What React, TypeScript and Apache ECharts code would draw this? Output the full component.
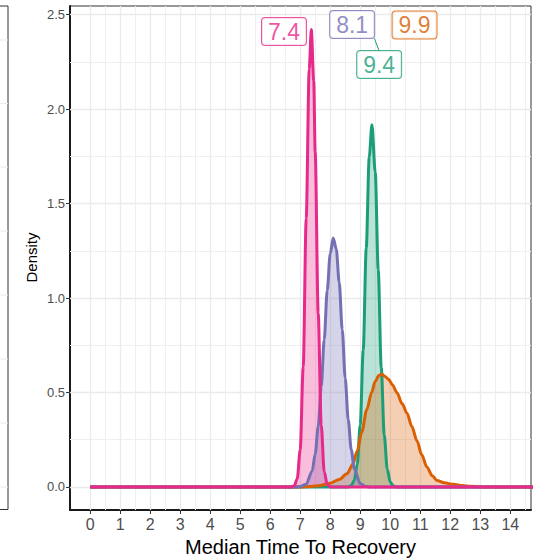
import React, { useEffect, useRef } from 'react';
import * as echarts from 'echarts';

// ---- axis ticks ----
const X_TICKS = [0, 1, 2, 3, 4, 5, 6, 7, 8, 9, 10, 11, 12, 13, 14];
const X_MINOR = [0.5, 1.5, 2.5, 3.5, 4.5, 5.5, 6.5, 7.5, 8.5, 9.5, 10.5, 11.5, 12.5, 13.5, 14.5];
const Y_TICKS = [0, 0.5, 1, 1.5, 2, 2.5];
const Y_MINOR = [0.25, 0.75, 1.25, 1.75, 2.25];

// ---- density curves (x, density) ----
const GREEN_94: [number, number][] = [
  [0, 0], [8.6, 0], [8.7, 0.008], [8.8, 0.034], [8.9, 0.119], [9.0, 0.33], [9.1, 0.725],
  [9.2, 1.263], [9.3, 1.746], [9.39, 1.917], [9.5, 1.667], [9.6, 1.15], [9.7, 0.632],
  [9.8, 0.276], [9.9, 0.095], [10.0, 0.026], [10.1, 0.006], [10.2, 0], [15, 0],
];
const ORANGE_99: [number, number][] = [
  [0, 0], [7.0, 0], [7.3, 0.002], [7.6, 0.006], [8.0, 0.02], [8.3, 0.04], [8.56, 0.07],
  [8.75, 0.12], [8.9, 0.19], [9.05, 0.29], [9.22, 0.41], [9.38, 0.5], [9.5, 0.56],
  [9.62, 0.59], [9.72, 0.596], [9.83, 0.585], [9.94, 0.57], [10.08, 0.54], [10.22, 0.5],
  [10.4, 0.44], [10.56, 0.39], [10.72, 0.32], [10.89, 0.245], [11.05, 0.17], [11.22, 0.106],
  [11.4, 0.06], [11.56, 0.035], [11.8, 0.022], [12.11, 0.014], [12.4, 0.008], [12.67, 0.004],
  [13.0, 0.001], [13.2, 0], [15, 0],
];
const PURPLE_81: [number, number][] = [
  [0, 0], [6.9, 0], [7.0, 0.002], [7.2, 0.015], [7.4, 0.085], [7.5, 0.175], [7.6, 0.32],
  [7.7, 0.53], [7.8, 0.78], [7.9, 1.04], [8.0, 1.234], [8.1, 1.317], [8.2, 1.261],
  [8.3, 1.083], [8.4, 0.834], [8.5, 0.576], [8.6, 0.357], [8.7, 0.198], [8.8, 0.098],
  [9.0, 0.018], [9.2, 0.002], [9.3, 0], [15, 0],
];
const PINK_74: [number, number][] = [
  [0, 0], [6.7, 0], [6.8, 0.006], [6.9, 0.042], [7.0, 0.197], [7.1, 0.635], [7.2, 1.42],
  [7.3, 2.21], [7.37, 2.42], [7.45, 2.15], [7.5, 1.77], [7.6, 0.92], [7.7, 0.33],
  [7.8, 0.082], [7.9, 0.014], [8.0, 0], [15, 0],
];

// ---- labels (text and their anchor in data units) ----
const LABEL_TEXT = ['7.4', '8.1', '9.9', '9.4'];
const LABEL_X = [6.46, 8.73, 10.81, 9.63];
const LABEL_Y = [2.41, 2.447, 2.444, 2.235];
const CONNECTOR_94: [number, number][] = [[9.47, 2.374], [9.63, 2.308]];

const C_GREEN = '#1B9E77';
const C_ORANGE = '#D95F02';
const C_PURPLE = '#7570B3';
const C_PINK = '#E7298A';
const LABEL_COLOR = [C_PINK, C_PURPLE, C_ORANGE, C_GREEN];

const FONT = '"Liberation Sans", Arial, Helvetica, sans-serif';

function densitySeries(name: string, data: [number, number][], color: string) {
  return {
    name,
    type: 'line',
    data,
    showSymbol: false,
    symbol: 'none',
    smooth: 0.3,
    smoothMonotone: 'x',
    lineStyle: { color, width: 3 },
    itemStyle: { color },
    areaStyle: { color, opacity: 0.3 },
    z: 3,
  };
}

export default function App() {
  const ref = useRef<HTMLDivElement>(null);
  useEffect(() => {
    const chart = echarts.init(ref.current!, null, { renderer: 'svg' });

    const gridMajor = { color: '#EBEBEB', width: 1.3, type: 'solid' };
    const gridMinor = { color: '#EFEFEF', width: 1, type: 'solid' };
    const markData: any[] = [
      ...X_MINOR.map((v) => ({ xAxis: v, lineStyle: gridMinor })),
      ...Y_MINOR.map((v) => ({ yAxis: v, lineStyle: gridMinor })),
      ...X_TICKS.map((v) => ({ xAxis: v, lineStyle: gridMajor })),
      ...Y_TICKS.map((v) => ({ yAxis: v, lineStyle: gridMajor })),
    ];

    const stripLines = [40, 103.5, 167, 231, 295, 359, 423, 487].map((y) => ({
      type: 'line',
      shape: { x1: 0, y1: y, x2: 8, y2: y },
      style: { stroke: '#EBEBEB', lineWidth: 1 },
    }));

    const option: any = {
      animation: false,
      backgroundColor: '#ffffff',
      grid: {
        left: 70,
        top: 6,
        width: 461,
        height: 504,
        show: true,
        borderColor: '#333333',
        borderWidth: 1,
        backgroundColor: 'transparent',
      },
      xAxis: {
        type: 'value',
        min: -0.67,
        max: 14.69,
        axisLine: { show: true, onZero: false, lineStyle: { color: '#1a1a1a', width: 2 } },
        axisTick: { show: true, customValues: X_TICKS, length: 4, lineStyle: { color: '#333333', width: 1 } },
        axisLabel: {
          show: true,
          customValues: X_TICKS,
          fontSize: 16,
          color: '#4D4D4D',
          fontFamily: FONT,
          margin: 6,
          formatter: (v: number) => String(v),
        },
        splitLine: { show: false },
        minorSplitLine: { show: false },
      },
      yAxis: {
        type: 'value',
        min: -0.1217,
        max: 2.545,
        axisLine: { show: true, onZero: false, lineStyle: { color: '#1a1a1a', width: 2 } },
        axisTick: { show: true, customValues: Y_TICKS, length: 4, lineStyle: { color: '#333333', width: 1 } },
        axisLabel: {
          show: true,
          customValues: Y_TICKS,
          fontSize: 13,
          color: '#4D4D4D',
          fontFamily: FONT,
          margin: 5,
          formatter: (v: number) => v.toFixed(1),
        },
        splitLine: { show: false },
        minorSplitLine: { show: false },
      },
      graphic: [
        {
          type: 'rect',
          shape: { x: -5, y: 6, width: 13, height: 503.5 },
          style: { fill: '#ffffff', stroke: '#333333', lineWidth: 1 },
          z: 0,
        },
        ...stripLines,
        {
          type: 'text',
          x: 300.5,
          y: 547,
          style: {
            text: 'Median Time To Recovery',
            fontSize: 20,
            fontFamily: FONT,
            fill: '#000000',
            textAlign: 'center',
            textVerticalAlign: 'middle',
          },
        },
        {
          type: 'text',
          x: 31,
          y: 257.5,
          rotation: Math.PI / 2,
          style: {
            text: 'Density',
            fontSize: 15,
            fontFamily: FONT,
            fill: '#000000',
            textAlign: 'center',
            textVerticalAlign: 'middle',
          },
        },
      ],
      series: [
        {
          name: 'grid',
          type: 'line',
          data: [[0, 0]],
          showSymbol: false,
          symbol: 'none',
          lineStyle: { opacity: 0 },
          silent: true,
          z: 1,
          markLine: {
            silent: true,
            z: 1,
            symbol: ['none', 'none'],
            label: { show: false },
            emphasis: { disabled: true },
            animation: false,
            data: markData,
          },
        },
        densitySeries('9.4', GREEN_94, C_GREEN),
        densitySeries('9.9', ORANGE_99, C_ORANGE),
        densitySeries('8.1', PURPLE_81, C_PURPLE),
        densitySeries('7.4', PINK_74, C_PINK),
        {
          name: 'connector',
          type: 'line',
          data: CONNECTOR_94,
          showSymbol: false,
          symbol: 'none',
          lineStyle: { color: C_GREEN, width: 1 },
          z: 4,
        },
        {
          name: 'labels',
          type: 'scatter',
          symbolSize: 0,
          z: 5,
          data: LABEL_TEXT.map((t, i) => ({
            name: t,
            value: [LABEL_X[i], LABEL_Y[i]],
            label: {
              show: true,
              position: 'inside',
              formatter: t,
              color: LABEL_COLOR[i],
              fontSize: 23,
              fontFamily: FONT,
              lineHeight: 23,
              backgroundColor: '#ffffff',
              borderColor: LABEL_COLOR[i],
              borderWidth: 1,
              borderRadius: 3,
              padding: [2, 6, 2, 6],
            },
          })),
        },
      ],
    };
    chart.setOption(option);
    return () => chart.dispose();
  }, []);
  return (
    <div
      ref={ref}
      style={{ position: 'fixed', left: 0, top: 0, width: 533, height: 558, background: '#fff' }}
    />
  );
}
